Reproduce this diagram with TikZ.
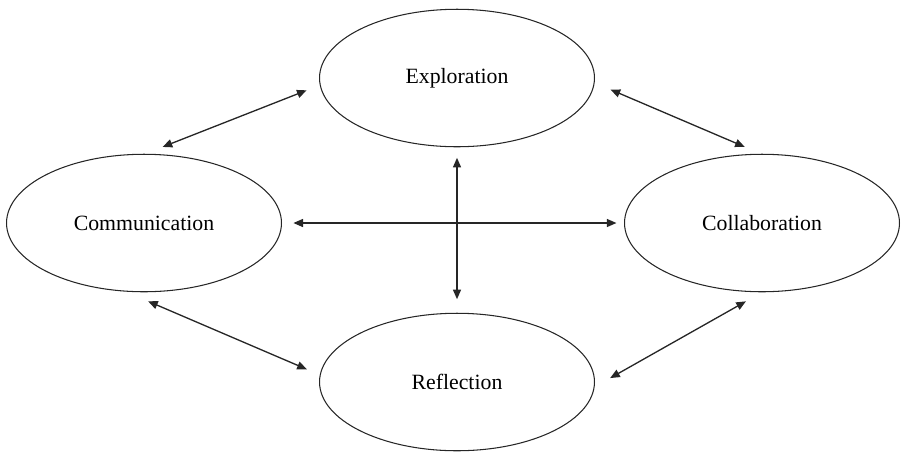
\documentclass[tikz,border=0pt]{standalone}
\usepackage{fontspec}
\setmainfont{Liberation Serif}
\usepackage{tikz}
\usetikzlibrary{shapes.geometric,arrows.meta}

\begin{document}
\begin{tikzpicture}[x=0.02cm, y=-0.02cm,
  every node/.style={font=\fontsize{12.4}{15}\selectfont},
  area/.style={draw=black!85, ellipse, line width=0.6pt, inner sep=0pt,
    minimum width=5.5cm, minimum height=2.75cm},
  link/.style={draw=black!85, line width=0.75pt,
    {Triangle[length=5.5pt,width=4.6pt]}-{Triangle[length=5.5pt,width=4.6pt]}}]
  \useasboundingbox (0,0) rectangle (903,451);
  % the four areas
  \node[area] (expl) at (457,78)  {Exploration};
  \node[area] (comm) at (144,223) {Communication};
  \node[area] (coll) at (762,223) {Collaboration};
  \node[area] (refl) at (457,382) {Reflection};
  % two-way links, gaps kept by shortening
  \foreach \a/\b/\s/\t in {expl.183/comm.89/8/10.6, expl.358/coll.91/9.8/9.9,
      refl.177/comm.255/8/13.9, refl.358/coll.270/10.1/10.5,
      comm.east/coll.west/6.5/4.3, expl.south/refl.north/6/7.7}
    \draw[link, shorten <=\s pt, shorten >=\t pt] (\a) -- (\b);
\end{tikzpicture}
\end{document}
